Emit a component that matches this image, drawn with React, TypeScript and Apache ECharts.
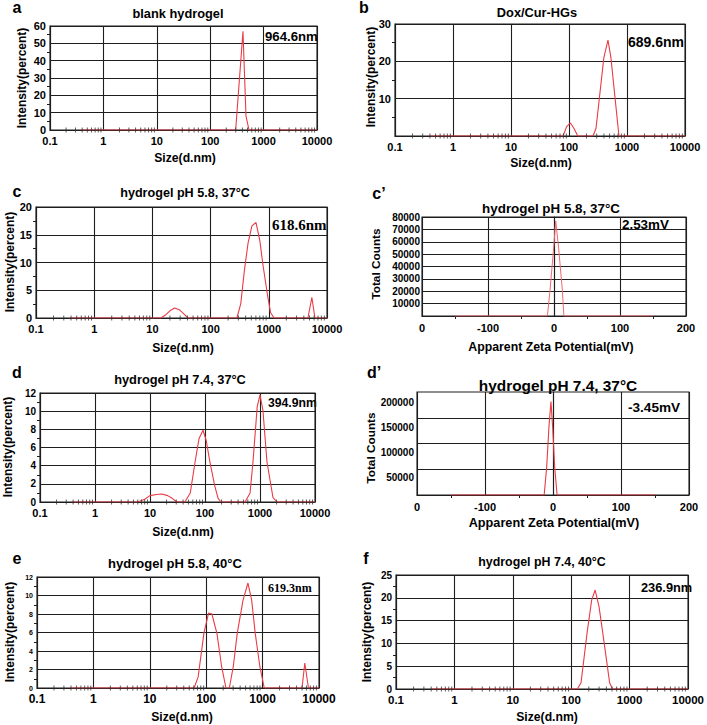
import React, { useEffect, useRef } from 'react';
import * as echarts from 'echarts';

// ---------- tick labels ----------
const sizeTickLabels = ['0.1', '1', '10', '100', '1000', '10000'];
const sizeMinorTicks = [
  0.2, 0.3, 0.4, 0.5, 0.6, 0.7, 0.8, 0.9,
  2, 3, 4, 5, 6, 7, 8, 9,
  20, 30, 40, 50, 60, 70, 80, 90,
  200, 300, 400, 500, 600, 700, 800, 900,
  2000, 3000, 4000, 5000, 6000, 7000, 8000, 9000,
];
const zetaTickLabels = ['0', '-100', '0', '100', '200'];

// ---------- panel texts ----------
const panelLetters = ['a', 'b', 'c', 'c\u2019', 'd', 'd\u2019', 'e', 'f'];
const panelTitles = [
  'blank hydrogel',
  'Dox/Cur-HGs',
  'hydrogel pH 5.8, 37°C',
  'hydrogel pH 5.8, 37°C',
  'hydrogel pH 7.4, 37°C',
  'hydrogel pH 7.4, 37°C',
  'hydrogel pH 5.8, 40°C',
  'hydrogel pH 7.4, 40°C',
];
const panelNotes = ['964.6nm', '689.6nm', '618.6nm', '2.53mV', '394.9nm', '-3.45mV', '619.3nm', '236.9nm'];

// ---------- data: [size (d.nm), intensity (%)] ----------
const blankHydrogel: [number, number][] = [
  [0.4, 0], [300, 0], [411, 57], [468, 8], [533, 0], [10000, 0],
];
const doxCurHGs: [number, number][] = [
  [0.4, 0], [79, 0], [91, 2.5], [106, 3.5], [122, 2.0], [142, 0],
  [259, 0], [292, 2], [399, 21], [470, 25.7], [528, 21], [727, 0], [10000, 0],
];
const ph58T37: [number, number][] = [
  [0.4, 0], [14, 0], [17, 0.6], [20, 1.3], [24, 1.8], [29, 1.5], [35, 0.7], [41, 0],
  [283, 0], [330, 2.6], [380, 8.5], [440, 13.5], [513, 16.6], [603, 17.2], [700, 14],
  [795, 9.5], [955, 4], [1070, 1], [1230, 0],
  [4700, 0], [5500, 3.7], [6200, 0], [10000, 0],
];
const ph74T37: [number, number][] = [
  [0.4, 0], [6, 0], [8, 0.3], [10, 0.7], [13, 0.83], [16.5, 0.88], [21, 0.7], [26, 0.35], [31, 0],
  [43, 0], [54, 1], [66, 4.4], [78, 7], [92, 7.9], [105, 6.8], [123, 4.4], [150, 1.8], [173, 0.4], [195, 0],
  [535, 0], [660, 1], [745, 4.4], [890, 10.5], [1000, 11.8], [1130, 10.1], [1340, 4.4], [1720, 0.5], [2030, 0],
  [10000, 0],
];
const ph58T40: [number, number][] = [
  [0.4, 0], [61, 0], [72, 1.2], [91, 5.9], [110, 8.1], [126, 8.0], [155, 5.9], [188, 2.3], [224, 0],
  [257, 0], [302, 2.3], [355, 5.9], [450, 9.5], [550, 11.35], [640, 9.5], [740, 5.9], [895, 2.3], [1070, 0],
  [5000, 0], [5600, 2.7], [6500, 0], [10000, 0],
];
const ph74T40: [number, number][] = [
  [0.4, 0], [127, 0], [147, 1.3], [187, 12.3], [224, 19.5], [257, 21.7], [300, 18], [347, 12.3],
  [456, 1.3], [512, 0], [10000, 0],
];

// ---------- data: [zeta potential (mV), total counts] ----------
const zetaPh58T37: [number, number][] = [
  [-150, 0], [-10, 0], [-6, 21000], [-1, 52000], [2.6, 76800], [7, 55000], [12.6, 21000], [15, 0], [150, 0],
];
const zetaPh74T37: [number, number][] = [
  [-150, 16000], [-13, 16000], [-9.3, 71000], [-6, 150000], [-3, 201000], [-0.5, 150000],
  [2.5, 71000], [6, 16000], [150, 16000],
];
const zetaPh74T37GridValues = [67000, 118000, 169000];

const FONT = "'Liberation Sans', Arial, Helvetica, sans-serif";
const SERIF = "'Liberation Serif', 'Times New Roman', serif";
const INK = '#000';
const GRIDC = '#1e1e1e';
const GW = 1.1;
const RED = '#ea3b45';

type Box = { L: number; T: number; R: number; B: number };

function buildOption() {
  const boxes: Box[] = [
    { L: 50, T: 26, R: 317, B: 130 },
    { L: 395, T: 24, R: 685, B: 136 },
    { L: 36, T: 207, R: 327, B: 318 },
    { L: 422, T: 217, R: 686, B: 316 },
    { L: 40, T: 393, R: 315, B: 502 },
    { L: 417, T: 392, R: 689, B: 495 },
    { L: 37, T: 577, R: 319, B: 688 },
    { L: 396, T: 575, R: 694, B: 689 },
  ];
  const grid = boxes.map((b) => ({
    left: b.L, top: b.T, width: b.R - b.L, height: b.B - b.T,
    show: true, borderColor: GRIDC, borderWidth: GW, backgroundColor: 'transparent',
    containLabel: false,
  }));

  const sizeX = (gi: number, fontSize: number) => ({
    type: 'log', logBase: 10, gridIndex: gi, min: 0.1, max: 10000,
    axisLine: { show: true, lineStyle: { color: GRIDC, width: GW } },
    axisTick: { show: false },
    splitLine: { show: true, lineStyle: { color: GRIDC, width: GW } },
    axisLabel: {
      margin: 5, fontFamily: FONT, fontWeight: 'bold', fontSize, color: INK,
      formatter: (v: number) => sizeTickLabels[Math.round(Math.log10(v)) + 1] ?? '',
    },
  });
  const zetaX = (gi: number, fontSize: number) => ({
    type: 'value', gridIndex: gi, min: -200, max: 200, interval: 100,
    axisLine: { show: true, lineStyle: { color: GRIDC, width: GW } },
    axisTick: { show: false },
    minorTick: { show: true, splitNumber: 2, length: 3, lineStyle: { color: GRIDC } },
    splitLine: { show: true, lineStyle: { color: GRIDC, width: GW } },
    axisLabel: {
      margin: 6, fontFamily: FONT, fontWeight: 'bold', fontSize, color: INK,
      formatter: (v: number) => zetaTickLabels[Math.round((v + 200) / 100)] ?? '',
    },
  });
  const valY = (gi: number, max: number, interval: number, fontSize: number, hideZero: boolean, majorTick = false) => ({
    type: 'value', gridIndex: gi, min: 0, max, interval,
    axisLine: { show: true, lineStyle: { color: GRIDC, width: GW } },
    axisTick: { show: majorTick, length: 3, lineStyle: { color: GRIDC } },
    minorTick: { show: !majorTick, splitNumber: 2, length: 3, lineStyle: { color: GRIDC } },
    splitLine: { show: true, lineStyle: { color: GRIDC, width: GW } },
    axisLabel: {
      margin: majorTick ? 2 : 4, fontFamily: FONT, fontWeight: 'bold', fontSize, color: INK,
      formatter: (v: number) => (hideZero && v === 0 ? '' : String(v)),
    },
  });
  const dPrimeY = {
    type: 'value', gridIndex: 5, min: 16000, max: 220000, interval: 2000,
    axisLine: { show: true, lineStyle: { color: GRIDC, width: GW } },
    axisTick: { show: false },
    splitLine: { show: false },
    axisLabel: {
      margin: 3, fontFamily: FONT, fontWeight: 'bold', fontSize: 10, color: INK,
      formatter: (v: number) => (v % 50000 === 0 ? String(v) : ''),
    },
  };

  const xAxis = [
    sizeX(0, 11), sizeX(1, 11), sizeX(2, 11), zetaX(3, 11),
    sizeX(4, 11), zetaX(5, 11), sizeX(6, 12), sizeX(7, 11.5),
  ];
  const yAxis = [
    valY(0, 60, 10, 11, false),
    valY(1, 30, 10, 11, true),
    valY(2, 20, 5, 11, false),
    valY(3, 80000, 10000, 10, true, true),
    valY(4, 12, 2, 10, false),
    dPrimeY,
    valY(6, 12, 2, 7, false),
    valY(7, 25, 5, 10, false),
  ];

  const sizeData = [blankHydrogel, doxCurHGs, ph58T37, null, ph74T37, null, ph58T40, ph74T40];
  const series: any[] = [];
  sizeData.forEach((d, i) => {
    if (!d) return;
    series.push({
      type: 'line', xAxisIndex: i, yAxisIndex: i, data: d, symbol: 'none', showSymbol: false,
      lineStyle: { color: RED, width: 1.1 }, z: 3, silent: true,
    });
    series.push({
      type: 'scatter', xAxisIndex: i, yAxisIndex: i, data: sizeMinorTicks.map((v) => [v, 0]),
      symbol: 'rect', symbolSize: [1, 5], itemStyle: { color: '#333' }, z: 4, silent: true,
    });
  });
  series.push({
    type: 'line', xAxisIndex: 3, yAxisIndex: 3, data: zetaPh58T37, symbol: 'none', showSymbol: false,
    lineStyle: { color: '#ee6a70', width: 1 }, z: 3, silent: true,
  });
  series.push({
    type: 'line', xAxisIndex: 5, yAxisIndex: 5, data: zetaPh74T37, symbol: 'none', showSymbol: false,
    lineStyle: { color: RED, width: 1.1 }, z: 3, silent: true,
    markLine: {
      silent: true, symbol: 'none', label: { show: false },
      lineStyle: { color: GRIDC, type: 'solid', width: GW },
      data: zetaPh74T37GridValues.map((v) => ({ yAxis: v })),
      z: 1,
    },
  });

  const txt = (text: string, x: number, y: number, fontSize: number, o: any = {}) => ({
    type: 'text', x, y, rotation: o.rot ?? 0, silent: true,
    style: {
      text, fill: INK, fontSize, fontWeight: o.weight ?? 'bold', fontFamily: o.family ?? FONT,
      align: o.align ?? 'center', verticalAlign: 'middle',
    },
  });
  const R90 = Math.PI / 2;
  const graphic = [
    // letters
    txt(panelLetters[0], 17, 7, 16), txt(panelLetters[1], 364, 7, 16),
    txt(panelLetters[2], 17, 191, 16), txt(panelLetters[3], 379, 193, 16),
    txt(panelLetters[4], 17, 372, 16), txt(panelLetters[5], 374, 372, 16),
    txt(panelLetters[6], 17, 558, 16), txt(panelLetters[7], 366, 558, 16),
    // titles
    txt(panelTitles[0], 178, 13, 12.8), txt(panelTitles[1], 537, 12, 12.8),
    txt(panelTitles[2], 185, 193, 12.6), txt(panelTitles[3], 551, 208, 13.4),
    txt(panelTitles[4], 180, 379, 12.8), txt(panelTitles[5], 558, 385, 15.4),
    txt(panelTitles[6], 175, 563, 13), txt(panelTitles[7], 542, 562, 12.4),
    // notes
    txt(panelNotes[0], 265, 36, 13.2, { align: 'left' }),
    txt(panelNotes[1], 628, 42, 14, { align: 'left' }),
    txt(panelNotes[2], 272, 225, 15, { align: 'left', family: SERIF }),
    txt(panelNotes[3], 622, 224, 13.4, { align: 'left' }),
    txt(panelNotes[4], 268, 403, 12.2, { align: 'left' }),
    txt(panelNotes[5], 628, 407, 13.6, { align: 'left' }),
    txt(panelNotes[6], 268, 588, 12, { align: 'left', family: SERIF }),
    txt(panelNotes[7], 641, 587, 12.8, { align: 'left' }),
    // axis names
    txt('Intensity(percent)', 22, 78, 12, { rot: R90 }),
    txt('Size(d.nm)', 185, 158, 12.2),
    txt('Intensity(percent)', 371, 77, 12, { rot: R90 }),
    txt('Size(d.nm)', 541, 163, 12.2),
    txt('Intensity(percent)', 10, 262, 12, { rot: R90 }),
    txt('Size(d.nm)', 183, 348, 12.2),
    txt('Total Counts', 376, 264, 11.8, { rot: R90 }),
    txt('Apparent Zeta Potential(mV)', 551, 347, 12.3),
    txt('Intensity(percent)', 8, 447, 12, { rot: R90 }),
    txt('Size(d.nm)', 183, 532, 12.2),
    txt('Total Counts', 371, 448, 11.8, { rot: R90 }),
    txt('Apparent Zeta Potential(mV)', 554, 523, 12.7),
    txt('Intensity(percent)', 10, 632, 12, { rot: R90 }),
    txt('Size(d.nm)', 182, 717, 12.2),
    txt('Intensity(percent)', 367, 632, 12, { rot: R90 }),
    txt('Size(d.nm)', 547, 717, 12.2),
  ];

  return {
    animation: false,
    backgroundColor: '#fff',
    grid, xAxis, yAxis, series, graphic,
  };
}

export default function App() {
  const ref = useRef<HTMLDivElement>(null);
  useEffect(() => {
    if (!ref.current) return;
    const chart = echarts.init(ref.current, undefined, { renderer: 'svg' });
    chart.setOption(buildOption() as any);
    return () => chart.dispose();
  }, []);
  return (
    <div
      ref={ref}
      style={{ position: 'absolute', left: 0, top: 0, width: 707, height: 725, background: '#fff' }}
    />
  );
}
